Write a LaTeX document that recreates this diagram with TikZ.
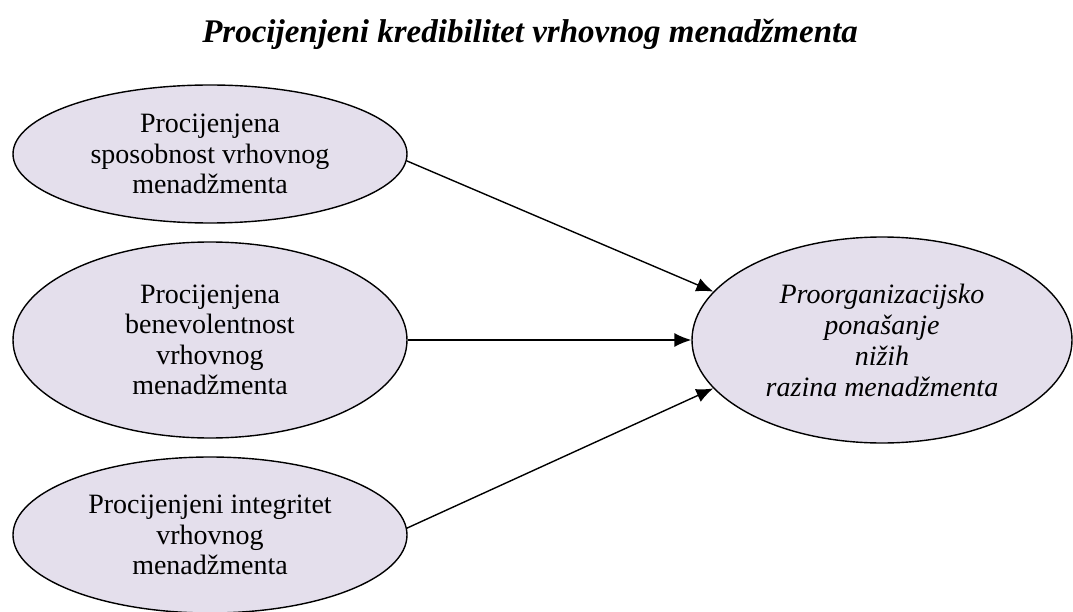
\documentclass[tikz,border=0pt]{standalone}
\usepackage{fontspec}
\setmainfont{Liberation Serif}
\usetikzlibrary{shapes.geometric,arrows.meta}
\definecolor{lav}{HTML}{E4DFEC}
\tikzset{
  oval/.style={ellipse, draw=black, line width=1.4pt, fill=lav, inner sep=0pt,
    align=center, font=\fontsize{28}{30.5}\selectfont},
  link/.style={line width=1.4pt, -{Latex[length=17pt,width=14pt]}}
}
\begin{document}
\begin{tikzpicture}[x=1pt,y=-1pt]
\useasboundingbox (0,0) rectangle (1073,612);
\node[font=\fontsize{33}{36}\selectfont\bfseries\itshape, anchor=base] (title) at (530,43)
  {Procijenjeni kredibilitet vrhovnog menadžmenta};
\node[oval, minimum width=394pt, minimum height=138pt] (e1) at (210,154)
  {Procijenjena\\sposobnost vrhovnog\\menadžmenta};
\node[oval, minimum width=394pt, minimum height=196pt] (e2) at (210,340)
  {Procijenjena\\benevolentnost\\vrhovnog\\menadžmenta};
\node[oval, minimum width=394pt, minimum height=156pt] (e3) at (210,535)
  {Procijenjeni integritet\\vrhovnog\\menadžmenta};
\node[oval, minimum width=380pt, minimum height=206pt, font=\fontsize{28}{31}\selectfont\itshape] (r) at (882,340)
  {Proorganizacijsko\\ponašanje\\nižih\\razina menadžmenta};
\draw[link] (e1.-2) -- (r.164);
\draw[link] (e2.east) -- (r.west);
\draw[link] (e3.2) -- (r.196);
\end{tikzpicture}
\end{document}
